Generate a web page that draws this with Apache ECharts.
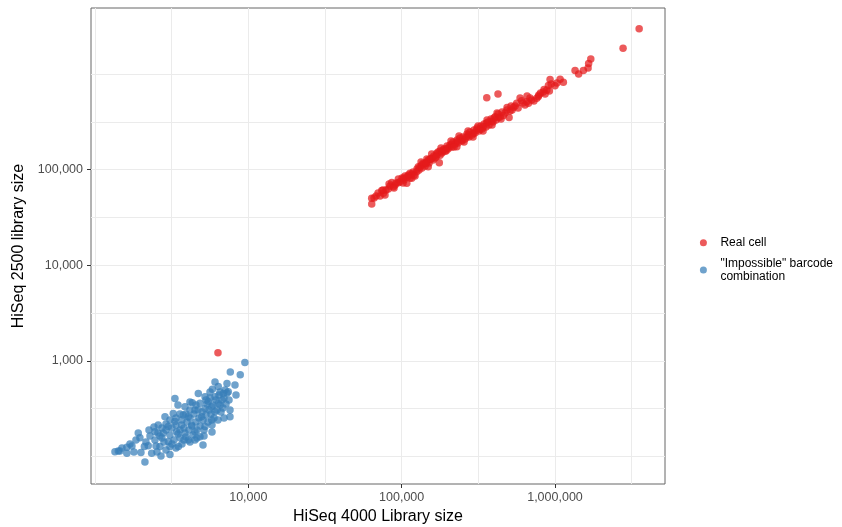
<!DOCTYPE html>
<html>
<head>
<meta charset="utf-8">
<script src="https://cdn.jsdelivr.net/npm/echarts@6/dist/echarts.min.js"></script>
<style>html,body{margin:0;padding:0;background:#fff}#c{width:842px;height:527px}</style>
</head>
<body>
<div id="c"></div>
<script>
// ---- data ----
const realX = [3540000,2780000,1712000,1657000,1644000,1532000,1426000,1352000,1134000,1080000,1000000,929000,906000,919000,849000,805000,779000,761000,704000,671000,606000,563000,535000,509000,487000,502000,461000,427000,407000,359000,425000,387000,358000,341000,325000,309000,294000,272000,266000,247000,229000,212000,229000,207000,197000,187000,183000,169000,157000,178000,176000,149000,146000,138000,135000,149000,128500,125500,113400,110600,105200,116400,102600,97600,95200,86200,108000,90600,88300,81900,76000,74200,77900,72300,63800,63800,655000,6340,
100600,103700,108400,111700,116900,118700,120500,126000,129800,131800,135800,140000,142100,146400,150900,153200,157800,160200,162600,165100,170100,172700,177900,183400,189000,191800,197700,200700,206800,213100,216300,222900,229700,233200,240300,247600,251400,259000,266900,275100,279200,287800,296500,301000,310200,319700,329400,334400,344600,355100,366000,371500,382800,394500,400500,412700,425300,438200,451600,472100,486500,525000,549000,575000,618000,637000,687000,729000,785000,838000,885000,945000,1029000,68100,70200,79100,84000,91900,95200,
102100,113400,122300,133800,144200,155500,167600,180600,194700,209900,219600,236700,255200,271000,292100,314900,339500,360500,388600,418900,444800,517200,592000,657700,861800,66100,75600,82800,89200];
const realY = [2985000,1862000,1439000,1291000,1158000,1091000,1002000,1091000,820000,882000,757000,878000,760000,665000,690000,634000,583000,558000,536000,495000,526000,495000,447000,411000,447000,352000,369000,352000,358000,566000,619000,321000,308000,282000,266000,260000,240000,231000,221000,205000,196000,186000,174000,174000,167000,161000,154000,148000,146000,142000,118000,126000,129000,117000,112000,107500,107500,95300,91700,88000,85900,81300,81300,74900,73100,73500,72100,69200,66400,62800,56600,60600,54400,53100,50200,43800,514000,1220,
81900,78000,83900,85900,90200,94600,88000,101700,99300,106700,104200,114700,109300,120400,117500,129400,132500,126300,139100,132500,142500,153100,156900,149500,164600,156900,176900,164600,181300,172700,194800,185700,204500,190200,214500,199600,219800,209400,236200,219800,247900,230600,260100,242000,273000,253900,286400,266500,300600,279600,315400,293400,339100,315400,347300,331000,382500,355800,401400,391800,421200,421200,463800,442000,498500,475100,562400,523200,604600,649900,682000,789500,808800,53100,57000,61300,67500,72600,79900,
72600,81900,85900,120400,117500,129400,135800,168600,156900,199600,172700,225100,194800,253900,219800,286400,253900,331000,293400,391800,339100,463800,562400,590000,619000,50600,61300,70900,64400];

const impX = [9500,7630,8860,8185,7260,6063,6370,7400,6870,5830,4720,5218,6063,3323,4310,4841,5480,6370,5770,3862,4488,5218,6063,7595,3240,3760,2861,4060,4960,5770,3323,2585,3006,3675,4270,5218,2250,2461,2790,3410,3862,4488,4841,1915,1964,2461,3006,3583,4060,4488,2100,2225,2653,3083,3500,1691,1614,1420,1350,1614,1994,2343,2694,3083,2117,1455,
2575,2734,2904,3083,3177,3274,3374,3477,3583,3692,3805,3921,3980,4100,4163,4290,4355,4421,4556,4625,4694,4767,4841,4988,5064,5140,5297,5377,5458,5541,5625,5710,5796,5884,5973,6155,6248,6343,6439,6536,6635,6735,6837,6941,7152,7260,7482,7046,6536,5625,5297,4556,4163,3921,3583,3374,3083,2904,2734,2653,2818,3177,3692,3374,2904,2499,2284,2149,1850,1742,4625,5140,4163,3805,2425,
7595,8313,5064,2537,1795,1500,5796,6941,4163,3477];
const impY = [960,765,717,560,580,600,540,477,457,504,457,423,423,404,366,361,376,361,332,332,306,318,294,261,281,272,261,261,261,241,232,214,206,214,214,206,189,182,176,182,176,182,161,176,157,149,144,157,149,149,127,130,127,127,127,135,125,114,112,108,110,108,101,105,87.5,114,
176,156,189,168,199,149,214,172,189,241,199,160,230,189,253,209,168,278,230,189,306,253,209,292,241,189,272,354,230,306,409,278,214,346,253,390,306,241,440,346,292,390,322,409,354,461,390,496,473,473,390,346,306,278,278,253,241,219,199,164,142,135,135,123,117,129,164,142,149,129,156,164,142,149,204,
306,440,132,111.5,111.5,123,180,253,371,346];

const xGridValues = [1000, 3162.28, 10000, 31622.8, 100000, 316228, 1000000, 3162278];
const yGridValues = [100, 316.228, 1000, 3162.28, 10000, 31622.8, 100000, 316228, 1000000];
const xTickValues = [10000, 100000, 1000000];
const yTickValues = [1000, 10000, 100000];
const xRange = [942, 5218000];
const yRange = [51.6, 4910000];
const seriesNames = ['Real cell', '"Impossible" barcode\ncombination'];

// ---- chart ----
const font = 'Liberation Sans, Arial, Helvetica, sans-serif';
const fmt = v => Math.round(v).toLocaleString('en-US');
const gridLine = {show: true, lineStyle: {color: '#ebebeb', width: 1}};

const chart = echarts.init(document.getElementById('c'), null, {renderer: 'canvas'});
chart.setOption({
  animation: false,
  backgroundColor: '#fff',
  textStyle: {fontFamily: font},
  grid: {left: 91, right: 177, top: 8, bottom: 43, show: true, borderColor: '#666', borderWidth: 1, backgroundColor: 'transparent', outerBoundsMode: 'none'},
  xAxis: [
    {type: 'log', logBase: 10, min: xRange[0], max: xRange[1], position: 'bottom',
     axisLine: {show: false}, axisTick: {show: false, customValues: xGridValues},
     axisLabel: {show: false}, splitLine: gridLine},
    {type: 'log', logBase: 10, min: xRange[0], max: xRange[1], position: 'bottom',
     axisLine: {show: false},
     axisTick: {show: true, customValues: xTickValues, length: 4, lineStyle: {color: '#333', width: 1}},
     axisLabel: {customValues: xTickValues, formatter: fmt, color: '#4d4d4d', fontSize: 12.5, margin: 7, fontFamily: font},
     splitLine: {show: false},
     name: 'HiSeq 4000 Library size', nameLocation: 'middle', nameGap: 24,
     nameTextStyle: {fontSize: 16, color: '#000', fontFamily: font}}
  ],
  yAxis: [
    {type: 'log', logBase: 10, min: yRange[0], max: yRange[1], position: 'left',
     axisLine: {show: false}, axisTick: {show: false, customValues: yGridValues},
     axisLabel: {show: false}, splitLine: gridLine},
    {type: 'log', logBase: 10, min: yRange[0], max: yRange[1], position: 'left',
     axisLine: {show: false},
     axisTick: {show: true, customValues: yTickValues, length: 4, lineStyle: {color: '#333', width: 1}},
     axisLabel: {customValues: yTickValues, formatter: fmt, color: '#4d4d4d', fontSize: 12.5, margin: 8, fontFamily: font},
     splitLine: {show: false},
     name: 'HiSeq 2500 library size', nameLocation: 'middle', nameGap: 61,
     nameTextStyle: {fontSize: 16, color: '#000', fontFamily: font}}
  ],
  legend: {
    orient: 'vertical', left: 694.9, top: 231, itemWidth: 24, itemHeight: 7, itemGap: 7,
    icon: 'circle', data: seriesNames,
    textStyle: {fontSize: 12, color: '#000', lineHeight: 13.5, fontFamily: font}
  },
  series: [
    {type: 'scatter', name: seriesNames[0], xAxisIndex: 0, yAxisIndex: 0, symbolSize: 7.5,
     itemStyle: {color: '#E41A1C', opacity: 0.72},
     data: realX.map((x, i) => [x, realY[i]])},
    {type: 'scatter', name: seriesNames[1], xAxisIndex: 0, yAxisIndex: 0, symbolSize: 7.5,
     itemStyle: {color: '#377EB8', opacity: 0.72},
     data: impX.map((x, i) => [x, impY[i]])}
  ]
});
</script>
</body>
</html>
